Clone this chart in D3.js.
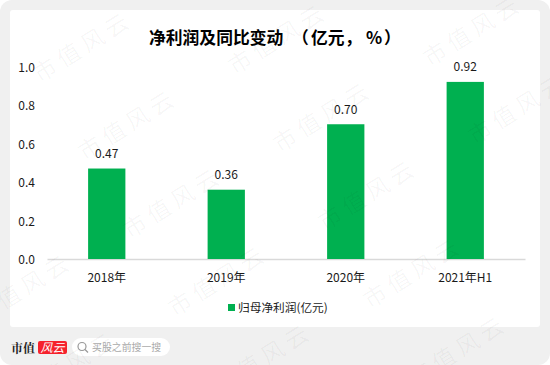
<!DOCTYPE html>
<html>
<head>
<meta charset="utf-8">
<script src="https://cdn.jsdelivr.net/npm/d3@7"></script>
<style>
body { margin: 0; background: #fff; }
svg { display: block; }
text { font-family: "Noto Sans CJK SC", "Noto Sans", sans-serif; }
</style>
</head>
<body>
<svg></svg>
<script>
const categories = ['2018年', '2019年', '2020年', '2021年H1'];
const profit = [0.47, 0.36, 0.70, 0.92];
const yTicks = [0, 0.2, 0.4, 0.6, 0.8, 1.0];
const titleParts = ['净利润及同比变动', '（', '亿元', '，', '%', '）'];
const titleX = [149, 292, 311, 345, 366, 384];
const legendText = '归母净利润(亿元)';
const watermark = '市值风云';

const width = 550;
const height = 365;
const green = '#00b050';

const svg = d3.select('svg').attr('width', width).attr('height', height);

// outer frame and white card
svg.append('rect').attr('width', width).attr('height', height).attr('rx', 12).attr('fill', '#f0f0f0');
svg.append('rect').attr('x', 10).attr('y', 10).attr('width', 530).attr('height', 317).attr('rx', 3).attr('fill', '#fff');

const margin = {top: 66.5, right: 25, bottom: 106, left: 47};
const innerWidth = width - margin.left - margin.right;
const innerHeight = height - margin.top - margin.bottom;

const xScale = d3.scaleBand().domain(categories).range([0, innerWidth]).paddingInner(0.688).paddingOuter(0.344);
const yScale = d3.scaleLinear().domain([0, 1]).range([innerHeight, 0]);

const g = svg.append('g').attr('transform', 'translate(' + margin.left + ',' + margin.top + ')');

// title pieces are placed one by one, the reference has wider gaps round the brackets
svg.append('text').attr('y', 44)
   .attr('font-size', 16.8).attr('font-weight', 700).attr('fill', '#000')
   .selectAll('tspan').data(titleParts).enter().append('tspan')
   .attr('x', (d, i) => titleX[i])
   .text(d => d);

// y axis: labels only
const yAxis = g.append('g').call(d3.axisLeft(yScale).tickValues(yTicks).tickFormat(d3.format('.1f')).tickSize(0).tickPadding(12));
yAxis.select('.domain').remove();
yAxis.selectAll('text').attr('font-size', 12).attr('fill', '#1a1a1a').attr('dy', '0.38em').style('font-family', '"Noto Sans CJK SC"');

const xAxis = g.append('g').attr('transform', 'translate(0,' + innerHeight + ')')
   .call(d3.axisBottom(xScale).tickSize(0).tickPadding(14));
xAxis.select('.domain').attr('stroke', '#d9d9d9').attr('stroke-width', 1.3);
xAxis.selectAll('text').attr('font-size', 12).attr('fill', '#1a1a1a').style('font-family', '"Noto Sans CJK SC"');

g.selectAll('rect.bar').data(profit).enter().append('rect')
   .attr('class', 'bar')
   .attr('x', (d, i) => xScale(categories[i]))
   .attr('y', d => yScale(d))
   .attr('width', xScale.bandwidth())
   .attr('height', d => innerHeight - yScale(d))
   .attr('fill', green);

g.selectAll('text.val').data(profit).enter().append('text')
   .attr('class', 'val')
   .attr('x', (d, i) => xScale(categories[i]) + xScale.bandwidth() / 2)
   .attr('y', d => yScale(d) - 10.5)
   .attr('text-anchor', 'middle')
   .attr('font-size', 12).attr('fill', '#1a1a1a')
   .text(d => d.toFixed(2));

// legend
svg.append('rect').attr('x', 228).attr('y', 304).attr('width', 7).attr('height', 7).attr('fill', green);
svg.append('text').attr('x', 238).attr('y', 311.5).attr('font-size', 11.7).attr('fill', '#1a1a1a').text(legendText);

// footer logo and search box
svg.append('text').attr('x', 11).attr('y', 353).attr('font-size', 12).attr('font-weight', 700)
   .style('font-family', '"Noto Serif CJK SC", "Noto Sans CJK SC"').attr('fill', '#222').text('市值');
svg.append('rect').attr('x', 38).attr('y', 341).attr('width', 29).attr('height', 13).attr('rx', 2).attr('fill', '#f5222d');
svg.append('text').attr('x', 52.5).attr('y', 352).attr('text-anchor', 'middle').attr('font-size', 12).attr('font-style', 'italic')
   .attr('fill', '#fff').text('风云');
svg.append('rect').attr('x', 72).attr('y', 338).attr('width', 98).attr('height', 18).attr('rx', 9).attr('fill', '#fff');
svg.append('circle').attr('cx', 82).attr('cy', 346.5).attr('r', 4).attr('fill', 'none').attr('stroke', '#999').attr('stroke-width', 1.2);
svg.append('line').attr('x1', 85).attr('y1', 349.5).attr('x2', 88).attr('y2', 352.5).attr('stroke', '#999').attr('stroke-width', 1.2);
svg.append('text').attr('x', 92).attr('y', 351).attr('font-size', 9.9).attr('fill', '#aaa').text('买股之前搜一搜');

// watermark lattice on top of everything
const wm = svg.append('g');
d3.range(-1, 5).forEach(j => {
  d3.range(-1, 4).forEach(i => {
    const cx = 82 + i * 195 + j * 45;
    const cy = 45 - i * 8 + j * 78;
    if (cx < 0 || cx > width || cy < 0 || cy > height) return;
    wm.append('text')
      .attr('transform', 'translate(' + cx + ',' + cy + ') rotate(-32)')
      .attr('text-anchor', 'middle').attr('dominant-baseline', 'central')
      .attr('font-size', 23).attr('letter-spacing', 5)
      .attr('fill', '#000').attr('fill-opacity', 0.04)
      .text(watermark);
  });
});
</script>
</body>
</html>
